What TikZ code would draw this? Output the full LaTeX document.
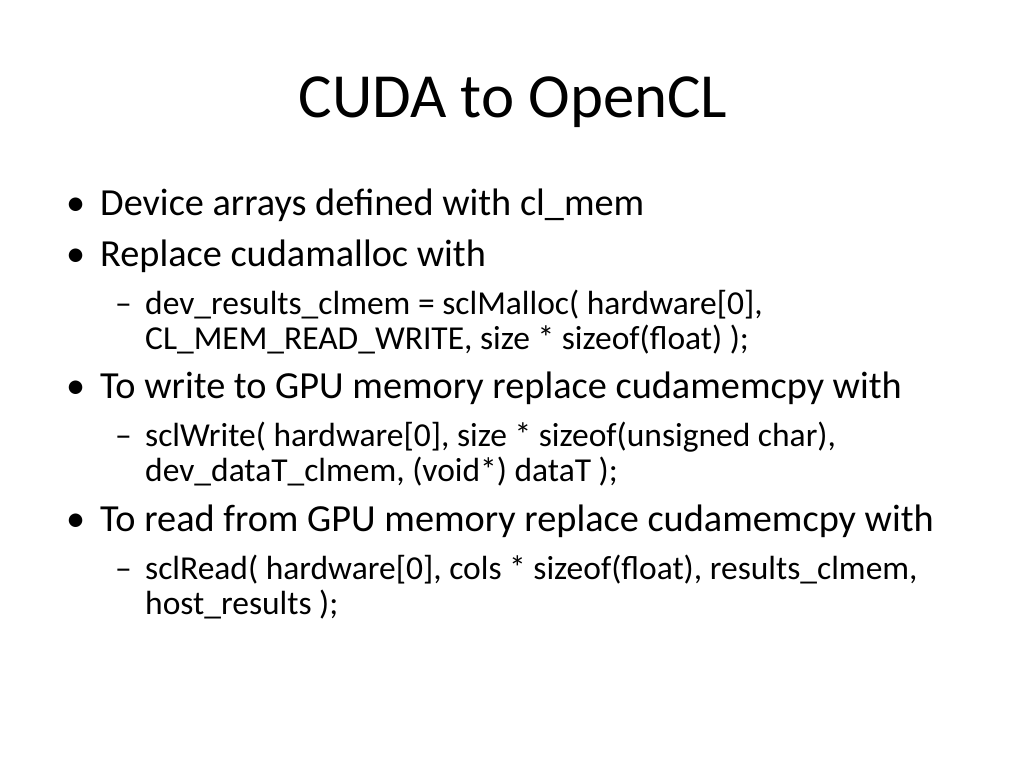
\documentclass[tikz,border=0pt]{standalone}
\usepackage{fontspec}
\setmainfont{Carlito}
\begin{document}
\begin{tikzpicture}[x=1pt,y=-1pt,
  every node/.style={inner sep=0pt,anchor=base west},
  lone/.style={font=\fontsize{38.3}{44}\selectfont},
  ltwo/.style={font=\fontsize{33.5}{38}\selectfont}]
\useasboundingbox (0,0) rectangle (1024,768);
\node[anchor=base,font=\fontsize{62.8}{72}\selectfont] (title) at (513,117) {CUDA to OpenCL};
\node[lone] (b1) at (66,215) {•};
\node[lone] (t1) at (100,215) {Device arrays defined with cl\_mem};
\node[lone] (b2) at (66,266) {•};
\node[lone] (t2) at (100,266) {Replace cudamalloc with};
\node[ltwo] (d1) at (115,314) {–};
\node[ltwo] (s1) at (145,314) {dev\_results\_clmem = sclMalloc( hardware[0],};
\node[ltwo] (s1b) at (145,349) {CL\_MEM\_READ\_WRITE, size * sizeof(float) );};
\node[lone] (b3) at (66,398) {•};
\node[lone] (t3) at (100,398) {To write to GPU memory replace cudamemcpy with};
\node[ltwo] (d2) at (115,446) {–};
\node[ltwo] (s2) at (145,446) {sclWrite( hardware[0], size * sizeof(unsigned char),};
\node[ltwo] (s2b) at (145,481) {dev\_dataT\_clmem, (void*) dataT );};
\node[lone] (b4) at (66,531) {•};
\node[lone] (t4) at (100,531) {To read from GPU memory replace cudamemcpy with};
\node[ltwo] (d3) at (115,579) {–};
\node[ltwo] (s3) at (145,579) {sclRead( hardware[0], cols * sizeof(float), results\_clmem,};
\node[ltwo] (s3b) at (145,614) {host\_results );};
\end{tikzpicture}
\end{document}
